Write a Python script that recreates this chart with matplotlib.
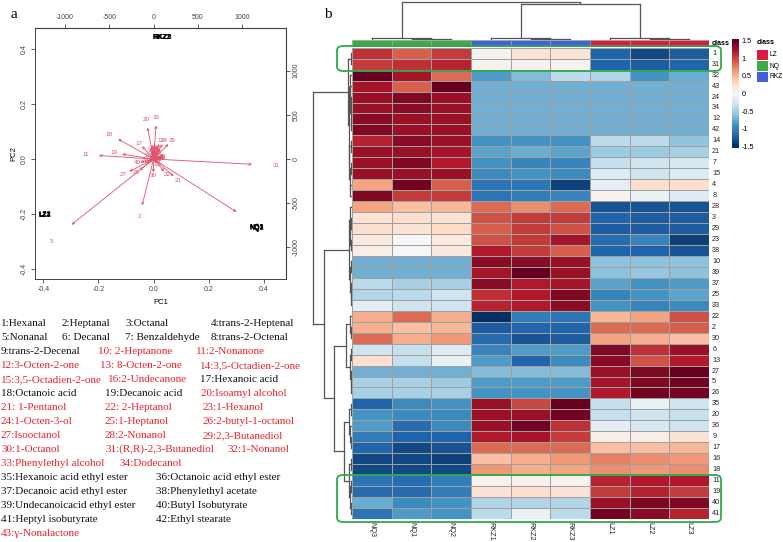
import numpy as np
import matplotlib
matplotlib.use("Agg")
import matplotlib.pyplot as plt
from matplotlib.patches import FancyBboxPatch, Rectangle

# ---------------- data ----------------
# PCA biplot: sample scores (PC1, PC2)
sample_names = ["NQ1", "NQ2", "NQ3", "RKZ1", "RKZ2", "RKZ3", "LZ1", "LZ2", "LZ3"]
score_pc1 = [0.372, 0.374, 0.373, 0.028, 0.030, 0.032, -0.396, -0.394, -0.395]
score_pc2 = [-0.250, -0.251, -0.249, 0.442, 0.440, 0.441, -0.204, -0.203, -0.205]

# variable loadings (top/right axis units), variables 1..43
var_ids = list(range(1, 44))
load_u = [1169, -162, 60, 80, -1158, -70, 70, 60, -20, 0,
          -771, 79, 40, 70, 90, -60, -162, -500, -444, -86,
          282, 150, 40, 124, 30, -199, -342, 50, 207, -4,
          1387, 100, 34, 90, -10, -30, 10, 40, 20, -188,
          -80, 70, 100]
load_v = [-748, -654, 90, 20, -929, -40, 10, -20, 80, 130,
          49, 211, -60, 30, 20, 40, 180, 282, 68, 444,
          -241, -177, 100, 211, 110, -158, -177, 70, 211, -188,
          -75, 30, 474, 10, 120, 100, 110, 90, 120, -45,
          -30, -10, 20]

legend_lines = [
    [("1:Hexanal", "k", 0), ("2:Heptanal", "k", 61), ("3:Octanal", "k", 124), ("4:trans-2-Heptenal", "k", 210)],
    [("5:Nonanal", "k", 0), ("6: Decanal", "k", 61), ("7: Benzaldehyde", "k", 124), ("8:trans-2-Octenal", "k", 210)],
    [("9:trans-2-Decenal", "k", 0), ("10: 2-Heptanone", "r", 97), ("11:2-Nonanone", "r", 195)],
    [("12:3-Octen-2-one", "r", 0), ("13: 8-Octen-2-one", "r", 99), ("14:3,5-Octadien-2-one", "r", 199)],
    [("15:3,5-Octadien-2-one", "r", 0), ("16:2-Undecanone", "r", 107), ("17:Hexanoic acid", "k", 199)],
    [("18:Octanoic acid", "k", 0), ("19:Decanoic acid", "k", 104), ("20:Isoamyl alcohol", "r", 200)],
    [("21: 1-Pentanol", "r", 0), ("22: 2-Heptanol", "r", 104), ("23:1-Hexanol", "r", 202)],
    [("24:1-Octen-3-ol", "r", 0), ("25:1-Heptanol", "r", 104), ("26:2-butyl-1-octanol", "r", 202)],
    [("27:Isooctanol", "r", 0), ("28:2-Nonanol", "r", 104), ("29:2,3-Butanediol", "r", 202)],
    [("30:1-Octanol", "r", 0), ("31:(R,R)-2,3-Butanediol", "r", 104), ("32:1-Nonanol", "r", 227)],
    [("33:Phenylethyl alcohol", "r", 0), ("34:Dodecanol", "r", 118)],
    [("35:Hexanoic acid ethyl ester", "k", 0), ("36:Octanoic acid ethyl ester", "k", 155)],
    [("37:Decanoic acid ethyl ester", "k", 0), ("38:Phenylethyl acetate", "k", 155)],
    [("39:Undecanoicacid ethyl ester", "k", 0), ("40:Butyl Isobutyrate", "k", 155)],
    [("41:Heptyl isobutyrate", "k", 0), ("42:Ethyl stearate", "k", 155)],
    [("43:\u03b3-Nonalactone", "r", 0)],
]

# heatmap
col_labels = ["NQ3", "NQ1", "NQ2", "RKZ1", "RKZ2", "RKZ3", "LZ1", "LZ2", "LZ3"]
col_class = ["NQ", "NQ", "NQ", "RKZ", "RKZ", "RKZ", "LZ", "LZ", "LZ"]
row_labels = ["1", "31", "32", "43", "24", "34", "12", "42", "14", "21", "7", "15", "4", "8",
              "28", "3", "29", "23", "38", "10", "39", "37", "25", "33",
              "22", "2", "30", "6", "13", "27", "5", "26",
              "35", "20", "36", "9", "17", "16", "18", "11", "19", "40", "41"]
nq_vals = [
    [1.10, 0.90, 1.05], [1.05, 1.10, 1.15], [1.50, 1.25, 0.85], [1.25, 0.90, 1.55],
    [1.30, 1.40, 1.30], [1.30, 1.35, 1.30], [1.35, 1.30, 1.30], [1.40, 1.30, 1.30],
    [1.15, 1.35, 1.30], [1.30, 1.30, 1.25], [1.30, 1.40, 1.20], [1.30, 1.30, 1.30],
    [0.60, 1.45, 0.90], [1.40, 1.05, 1.05],
    [0.60, 0.45, 0.50], [0.20, 0.25, 0.20], [0.25, 0.20, 0.30], [0.15, 0.00, 0.15],
    [0.10, 0.00, 0.15], [-0.72, -0.72, -0.72], [-0.72, -0.72, -0.72], [-0.40, -0.50, -0.50],
    [-0.45, -0.40, -0.30], [-0.15, -0.30, -0.30],
    [0.55, 0.85, 0.55], [0.55, 0.45, 0.50], [0.85, 0.55, 0.65], [-0.30, -0.35, -0.20],
    [0.25, -0.35, -0.10], [-0.72, -0.72, -0.72], [-0.50, -0.50, -0.55], [-0.50, -0.50, -0.50],
    [-1.20, -0.95, -0.90], [-0.90, -0.95, -0.95], [-0.85, -1.15, -0.95], [-1.05, -1.20, -1.20],
    [-1.20, -1.35, -1.30], [-1.35, -1.35, -1.40], [-1.35, -1.35, -1.35], [-1.10, -1.15, -1.05],
    [-1.15, -1.15, -1.05], [-0.75, -0.95, -0.90], [-1.10, -0.85, -0.90],
]
rkz_vals = [
    [0.05, 0.20, 0.20], [0.05, 0.05, 0.05], [-0.85, -0.65, -0.40], [-0.72, -0.72, -0.72],
    [-0.72, -0.72, -0.72], [-0.72, -0.72, -0.72], [-0.72, -0.72, -0.72], [-0.72, -0.72, -0.72],
    [-0.90, -0.90, -0.90], [-0.80, -0.75, -0.80], [-0.90, -1.00, -1.00], [-0.95, -0.90, -0.95],
    [-1.10, -1.10, -1.40], [-1.10, -1.05, -1.00],
    [0.85, 0.70, 0.85], [0.95, 1.05, 1.05], [0.90, 1.05, 0.95], [0.95, 1.05, 1.25],
    [1.20, 1.05, 0.90], [1.35, 1.35, 1.30], [1.25, 1.50, 1.30], [1.35, 1.20, 1.25],
    [1.10, 1.20, 1.40], [1.15, 1.20, 1.35],
    [-1.55, -1.05, -1.10], [-1.25, -1.20, -1.20], [-1.15, -1.30, -1.25], [-1.00, -0.85, -0.85],
    [-0.85, -1.20, -0.95], [-0.65, -0.65, -0.65], [-0.85, -0.85, -0.85], [-0.90, -0.90, -0.90],
    [1.30, 1.00, 1.50], [1.30, 1.30, 1.45], [1.30, 1.45, 1.10], [1.20, 1.25, 1.05],
    [0.85, 0.85, 0.85], [0.45, 0.55, 0.65], [0.65, 0.55, 0.60], [0.05, 0.05, 0.05],
    [0.20, 0.25, 0.20], [-0.45, -0.45, -0.45], [-0.40, -0.10, -0.40],
]
lz_vals = [
    [-1.20, -1.35, -1.25], [-1.20, -1.25, -1.20], [-0.45, -0.90, -0.75], [-0.72, -0.72, -0.72],
    [-0.72, -0.72, -0.72], [-0.72, -0.72, -0.72], [-0.72, -0.72, -0.72], [-0.72, -0.72, -0.72],
    [-0.40, -0.40, -0.60], [-0.55, -0.55, -0.50], [-0.35, -0.30, -0.25], [-0.20, -0.30, -0.20],
    [-0.15, 0.25, 0.25], [0.05, -0.10, -0.20],
    [-1.30, -1.30, -1.30], [-1.20, -1.25, -1.25], [-1.25, -1.25, -1.25], [-1.15, -1.00, -1.40],
    [-1.20, -1.20, -1.30], [-0.62, -0.62, -0.62], [-0.62, -0.58, -0.62], [-0.80, -0.90, -0.85],
    [-1.00, -0.90, -0.80], [-0.90, -1.00, -0.95],
    [0.50, 0.60, 0.95], [0.85, 0.85, 0.90], [0.60, 0.55, 0.45], [1.40, 1.10, 1.30],
    [1.35, 0.95, 1.20], [1.30, 1.40, 1.50], [1.25, 1.40, 1.45], [1.20, 1.45, 1.45],
    [-0.35, -0.10, -0.30], [-0.35, -0.30, -0.35], [-0.15, -0.25, -0.30], [0.10, 0.10, 0.20],
    [0.45, 0.45, 0.50], [0.75, 0.70, 0.65], [0.70, 0.65, 0.70], [1.15, 1.20, 1.20],
    [1.05, 1.15, 1.05], [1.30, 1.40, 1.40], [1.45, 1.35, 1.15],
]

# dendrograms: (left, right, height); leaves are labels
tree_A = (("1", "31", 1.5),
          (("32", ("43", (("24", "34", 1.0), ("12", "42", 1.0), 1.5), 2.0), 2.5),
           (("14", "21", 1.5), (("7", "15", 1.2), ("4", "8", 2.0), 2.5), 3.0), 3.5),
          4.5)
tree_B1 = (("28", (("3", "29", 1.0), ("23", "38", 1.2), 1.8), 2.5),
           (("10", "39", 1.0), ("37", ("25", "33", 1.0), 1.5), 2.2),
           3.5)
tree_B2a = (("22", ("2", "30", 1.5), 2.5),
            (("6", "13", 1.5), ("27", ("5", "26", 1.0), 1.5), 2.5),
            6.5)
tree_B2b = ((("35", "20", 1.2), ("36", ("9", "17", 1.5), 2.0), 2.8),
            (("16", "18", 1.2), (("11", "19", 1.2), ("40", "41", 1.5), 2.2), 3.5),
            8.5)
row_tree = (tree_A, (tree_B1, (tree_B2a, tree_B2b, 18.5), 28.5), 39.0)
col_tree = (("NQ3", ("NQ1", "NQ2", 1.0), 1.5),
            (("RKZ1", ("RKZ2", "RKZ3", 1.0), 1.5), ("LZ1", ("LZ2", "LZ3", 1.0), 1.3), 36.0),
            38.0)

class_colors = {"LZ": "#E0183F", "NQ": "#3DAA48", "RKZ": "#4160DA"}

# ---------------- figure ----------------
W, H = 783, 542
fig = plt.figure(figsize=(W / 100, H / 100), dpi=100)


def box(x0, y0, x1, y1):
    return [x0 / W, 1 - y1 / H, (x1 - x0) / W, (y1 - y0) / H]


SANS = "Liberation Sans"
SERIF = "Liberation Serif"
arrow_red = "#DF536B"

# ---- panel a: biplot ----
K = 3112.0
ax = fig.add_axes(box(35, 28, 286, 279))
ax.set_xlim(-0.43, 0.48)
ax.set_ylim(-0.436, 0.476)
for u, v, i in zip(load_u, load_v, var_ids):
    ax.annotate("", xy=(0.8 * u / K, 0.8 * v / K), xytext=(0, 0),
                arrowprops=dict(arrowstyle="->", color=arrow_red, lw=0.6,
                                mutation_scale=4, shrinkA=0, shrinkB=0))
    ax.text(u / K, v / K, str(i), ha="center", va="center", fontsize=4.5,
            color=arrow_red, family=SANS)
for n, x, y in zip(sample_names, score_pc1, score_pc2):
    ax.text(x, y, n, ha="center", va="center", fontsize=5, color="black",
            family=SANS, fontweight="bold")
ax.set_xticks([-0.4, -0.2, 0.0, 0.2, 0.4])
ax.set_yticks([-0.4, -0.2, 0.0, 0.2, 0.4])
ax.set_xticklabels(["-0.4", "-0.2", "0.0", "0.2", "0.4"], family=SANS, fontsize=5)
ax.set_yticklabels(["-0.4", "-0.2", "0.0", "0.2", "0.4"], family=SANS, fontsize=5,
                   rotation=90, va="center")
ax.tick_params(length=3, width=0.6, colors="#444444", pad=2)
for s in ax.spines.values():
    s.set_linewidth(0.7)
    s.set_color("#444444")
ax.set_xlabel("PC1", family=SANS, fontsize=5.5, labelpad=4)
ax.set_ylabel("PC2", family=SANS, fontsize=5.5, labelpad=3)
sx = ax.secondary_xaxis("top", functions=(lambda x: x * K, lambda u: u / K))
sx.set_xticks([-1000, -500, 0, 500, 1000])
sx.set_xticklabels(["-1000", "-500", "0", "500", "1000"], family=SANS, fontsize=5)
sx.tick_params(length=3, width=0.6, colors="#444444", pad=2)
sy = ax.secondary_yaxis("right", functions=(lambda y: y * K, lambda v: v / K))
sy.set_yticks([-1000, -500, 0, 500, 1000])
sy.set_yticklabels(["-1000", "-500", "0", "500", "1000"], family=SANS, fontsize=5,
                   rotation=90, va="center")
sy.tick_params(length=3, width=0.6, colors="#444444", pad=2)

fig.text(14 / W, 1 - 14 / H, "a", family=SERIF, fontsize=11, ha="center", va="center")
fig.text(328 / W, 1 - 14 / H, "b", family=SERIF, fontsize=11, ha="center", va="center")

# ---- legend text ----
y0, dy = 324, 13.95
for k, line in enumerate(legend_lines):
    for txt, c, xo in line:
        fig.text((1 + xo) / W, 1 - (y0 + k * dy) / H, txt, family=SERIF, fontsize=8.0,
                 color=("#E8222A" if c == "r" else "#111111"), ha="left", va="center")

# ---- heatmap ----
vals = np.hstack([np.array(nq_vals), np.array(rkz_vals), np.array(lz_vals)])
nr, nc = vals.shape
hx0, hx1, hy0, hy1 = 352, 709, 47.7, 519
hax = fig.add_axes(box(hx0, hy0, hx1, hy1))
cmap = plt.get_cmap("RdBu_r")
hax.pcolormesh(np.arange(nc + 1), np.arange(nr + 1), vals, cmap=cmap, vmin=-1.5, vmax=1.5,
               edgecolors="#a0a0a0", linewidth=0.5)
hax.set_xlim(0, nc)
hax.set_ylim(nr, 0)
hax.set_xticks([])
hax.set_yticks([])
for s in hax.spines.values():
    s.set_visible(False)
for i, lab in enumerate(row_labels):
    hax.text(nc + 0.08, i + 0.5, lab, fontsize=5.2, family=SANS, ha="left", va="center",
             color="#222222")
for j, lab in enumerate(col_labels):
    hax.text(j + 0.5, nr + 0.25, lab, fontsize=5.2, family=SANS, ha="center", va="top",
             rotation=270, color="#222222")

# class annotation bar
cax = fig.add_axes(box(hx0, 40, hx1, 46.5))
for j, c in enumerate(col_class):
    cax.add_patch(Rectangle((j, 0), 1, 1, facecolor=class_colors[c], edgecolor="#a0a0a0", lw=0.5))
cax.set_xlim(0, nc)
cax.set_ylim(0, 1)
cax.axis("off")
cax.text(nc + 0.08, 0.5, "class", fontsize=5.2, family=SANS, fontweight="bold", ha="left",
         va="center")


# dendrogram helper
def draw_tree(axd, tree, pos, orient):
    def rec(node):
        if isinstance(node, str):
            return pos[node], 0.0
        l, r, h = node
        pl, hl = rec(l)
        pr, hr = rec(r)
        if orient == "left":
            axd.plot([hl, h], [pl, pl], color="#555555", lw=0.9)
            axd.plot([hr, h], [pr, pr], color="#555555", lw=0.9)
            axd.plot([h, h], [pl, pr], color="#555555", lw=0.9)
        else:
            axd.plot([pl, pl], [hl, h], color="#555555", lw=0.9)
            axd.plot([pr, pr], [hr, h], color="#555555", lw=0.9)
            axd.plot([pl, pr], [h, h], color="#555555", lw=0.9)
        return (pl + pr) / 2, h
    rec(tree)


rax = fig.add_axes(box(311, hy0, hx0, hy1))
draw_tree(rax, row_tree, {lab: i + 0.5 for i, lab in enumerate(row_labels)}, "left")
rax.set_xlim(41, 0)
rax.set_ylim(nr, 0)
rax.axis("off")

tax = fig.add_axes(box(hx0, 0, hx1, 39.5))
draw_tree(tax, col_tree, {lab: j + 0.5 for j, lab in enumerate(col_labels)}, "top")
tax.set_xlim(0, nc)
tax.set_ylim(0, 39.5)
tax.axis("off")

# colour key
kax = fig.add_axes(box(732, 39, 739, 148))
grad = np.linspace(-1.55, 1.55, 256).reshape(-1, 1)
kax.imshow(grad, aspect="auto", cmap=cmap, origin="lower", extent=[0, 1, -1.55, 1.55],
           vmin=-1.5, vmax=1.5)
kax.set_xticks([])
kax.yaxis.tick_right()
kax.set_yticks([1.5, 1, 0.5, 0, -0.5, -1, -1.5])
kax.set_yticklabels(["1.5", "1", "0.5", "0", "-0.5", "-1", "-1.5"], family=SANS, fontsize=5.2)
kax.tick_params(length=0, pad=2)
for s in kax.spines.values():
    s.set_visible(False)

# class legend
fig.text(757 / W, 1 - 43 / H, "class", family=SANS, fontsize=5.2, fontweight="bold",
         ha="left", va="center")
for k, c in enumerate(["LZ", "NQ", "RKZ"]):
    yy = 50 + k * 11
    fig.patches.append(Rectangle((757 / W, 1 - (yy + 10) / H), 11 / W, 10 / H,
                                 transform=fig.transFigure, facecolor=class_colors[c],
                                 edgecolor="none"))
    fig.text(770 / W, 1 - (yy + 5) / H, c, family=SANS, fontsize=4.8, ha="left", va="center")

# green highlight boxes
for (x0, y0b, x1, y1b) in [(337, 46, 721, 71), (337, 475, 721, 522)]:
    fig.patches.append(FancyBboxPatch((x0 / W, 1 - y1b / H), (x1 - x0) / W, (y1b - y0b) / H,
                                      boxstyle="round,pad=0,rounding_size=0.008",
                                      transform=fig.transFigure, facecolor="none",
                                      edgecolor="#2DAA4A", lw=1.3))

fig.savefig("out.png", dpi=100)
